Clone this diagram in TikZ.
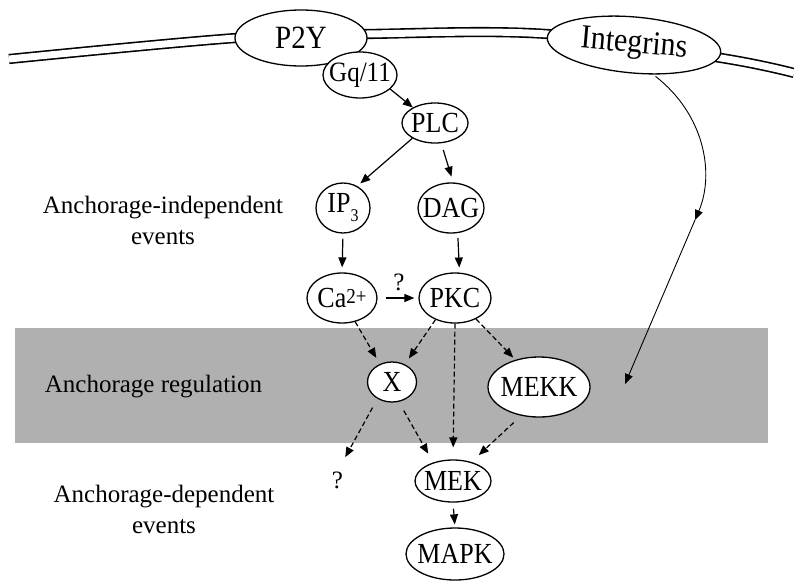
\documentclass[tikz,border=0pt]{standalone}
\usepackage{fontspec}
\usepackage{graphicx}
\setmainfont{Liberation Serif}
\usetikzlibrary{arrows.meta,shapes.geometric}
\definecolor{bandgray}{RGB}{176,176,176}
\newcommand{\tall}[1]{\scalebox{1}[1.12]{#1}}
\begin{document}
\begin{tikzpicture}[x=1pt,y=-1pt,
  every node/.style={font=\fontsize{25}{31}\selectfont},
  mol/.style={ellipse,draw,line width=1.3pt,fill=white,inner xsep=-8pt,inner ysep=-4pt,font=\fontsize{26}{31}\selectfont},
  lbl/.style={inner sep=0pt},
  arr/.style={-{Triangle[length=10pt,width=8pt]},line width=1.2pt},
  darr/.style={arr,dash pattern=on 5pt off 3pt},
  mem/.style={line width=1.6pt,double=white,double distance=7pt}
]
\useasboundingbox (0,0) rectangle (794,581);
\fill[bandgray] (15,328) rectangle (768,443);
\draw[mem] plot[smooth,tension=0.6] coordinates {(9,59) (236,38) (367,34) (547,34) (721,58) (794,73)};

\node[mol,minimum width=132pt,minimum height=56pt] (p2y) at (301,38) {\raisebox{-3pt}{\tall{\fontsize{29}{31}\selectfont P2Y}}};
\node[mol,minimum width=74pt,minimum height=46pt] (gq) at (360,75) {\tall{\fontsize{25}{31}\selectfont Gq/11}};
\node[mol,minimum width=66pt,minimum height=40pt] (plc) at (435,123) {\tall{PLC}};
\node[mol,minimum width=54pt,minimum height=50pt] (ip3) at (343,208) {\tall{IP\raisebox{-8pt}{\fontsize{16}{18}\selectfont 3}}};
\node[mol,minimum width=66pt,minimum height=50pt] (dag) at (451,208) {\tall{DAG}};
\node[mol,minimum width=70pt,minimum height=50pt] (ca) at (342,298) {\tall{Ca\raisebox{4pt}{\fontsize{19}{20}\selectfont 2+}}};
\node[mol,minimum width=72pt,minimum height=50pt] (pkc) at (455,298) {\tall{PKC}};
\node[mol,minimum width=49pt,minimum height=40pt] (x) at (392,382) {\tall{X}};
\node[mol,minimum width=102pt,minimum height=60pt] (mekk) at (539,387) {\tall{MEKK}};
\node[mol,minimum width=76pt,minimum height=42pt] (mek) at (453,481) {\tall{MEK}};
\node[mol,minimum width=98pt,minimum height=52pt] (mapk) at (455,554) {\tall{MAPK}};
\node[mol,minimum width=174pt,minimum height=56pt,rotate=-5] (int) at (634,45) {\tall{\fontsize{30}{32}\selectfont Integrins}};

\node[lbl,align=center,anchor=north] (indep) at (163,196) {Anchorage-independent\\events};
\node[lbl,anchor=base] (reg) at (153.5,392) {Anchorage regulation};
\node[lbl,align=center,anchor=north] (dep) at (164,485) {Anchorage-dependent\\events};
\node[lbl,anchor=base] (q1) at (399,290) {?};
\node[lbl,anchor=base] (q2) at (337.5,488) {?};

\coordinate (intmid) at (695,220);
\coordinate (intend) at (625,384);

\draw[arr] (gq.-25) -- (plc.145);
\draw[arr,shorten >=4pt] (plc.-146) -- (ip3.57);
\draw[arr,shorten <=7pt,shorten >=6pt] (plc.-73) -- (dag.85);
\draw[arr,shorten <=5pt,shorten >=5pt] (ip3.south) -- (ca.north);
\draw[arr,shorten <=5pt,shorten >=5pt] (dag.-75) -- (pkc.80);
\draw[arr,shorten <=8pt,shorten >=4pt] (ca.east) -- (pkc.west);
\draw[darr,shorten >=7pt] (ca.-61) -- (x.124);
\draw[darr,shorten >=7pt] (pkc.-132) -- (x.54);
\draw[darr,shorten >=3pt] (pkc.-45) -- (mekk.131);
\draw[darr,shorten >=12pt] (pkc.south) -- (mek.north);
\draw[darr,shorten <=10pt,shorten >=16pt] (x.-131) -- (q2.north);
\draw[darr,shorten <=10pt,shorten >=10pt] (x.-71) -- (mek.137);
\draw[darr,shorten <=10pt,shorten >=10pt] (mekk.-122) -- (mek.46);
\draw[arr,shorten <=6pt,shorten >=3pt] (mek.south) -- (mapk.north);
\draw[arr,line width=0.9pt,shorten <=3pt] (int.-52) .. controls (705,115) and (714.6,174) .. (intmid);
\draw[arr,line width=0.9pt] (intmid) -- (intend);
\end{tikzpicture}
\end{document}
